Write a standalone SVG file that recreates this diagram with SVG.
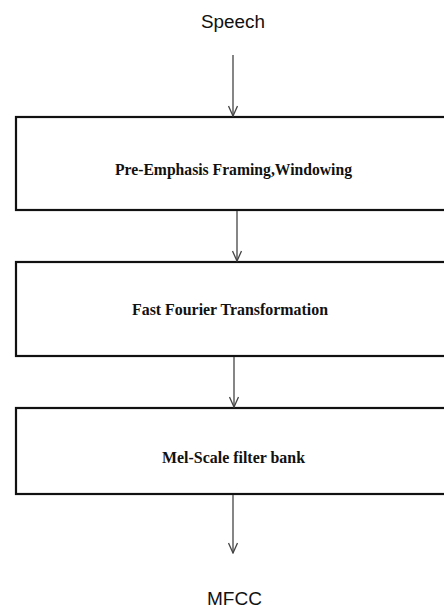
<svg xmlns="http://www.w3.org/2000/svg" width="444" height="608" viewBox="0 0 444 608">
<style>
.box{fill:#fff;stroke:#111;stroke-width:2.2}
.lbl{font-family:"Liberation Serif","Times New Roman",serif;font-weight:bold;font-size:17px;fill:#111;text-anchor:middle}
.io{font-family:"Liberation Sans",Arial,sans-serif;font-size:18px;fill:#111;text-anchor:middle}
.conn{stroke:#444;stroke-width:1.3;fill:none}
</style>
<defs>
<marker id="ah" markerWidth="12" markerHeight="10" refX="11" refY="5" orient="auto" markerUnits="userSpaceOnUse" viewBox="0 0 12 10">
<path d="M1,0.5 L11,5 L1,9.5" fill="none" stroke="#444" stroke-width="1.3"/>
</marker>
</defs>
<rect width="444" height="608" fill="#fff"/>
<g id="speech"><text class="io" x="233" y="28" textLength="64" lengthAdjust="spacingAndGlyphs">Speech</text></g>
<g id="preemphasis"><rect class="box" x="16" y="117" width="440" height="93"/><text class="lbl" x="233.5" y="175" textLength="237" lengthAdjust="spacingAndGlyphs">Pre-Emphasis Framing,Windowing</text></g>
<g id="fft"><rect class="box" x="16" y="262" width="440" height="94"/><text class="lbl" x="230" y="315" textLength="196" lengthAdjust="spacingAndGlyphs">Fast Fourier Transformation</text></g>
<g id="melscale"><rect class="box" x="16" y="408" width="440" height="86"/><text class="lbl" x="233.5" y="463" textLength="143" lengthAdjust="spacingAndGlyphs">Mel-Scale filter bank</text></g>
<g id="mfcc"><text class="io" x="234.5" y="605" textLength="55" lengthAdjust="spacingAndGlyphs">MFCC</text></g>
<g id="connectors">
<line class="conn" x1="233" y1="55" x2="233" y2="116" marker-end="url(#ah)"/>
<line class="conn" x1="237" y1="211" x2="237" y2="261" marker-end="url(#ah)"/>
<line class="conn" x1="234" y1="357" x2="234" y2="407" marker-end="url(#ah)"/>
<line class="conn" x1="233" y1="495" x2="233" y2="553" marker-end="url(#ah)"/>
</g>
</svg>
